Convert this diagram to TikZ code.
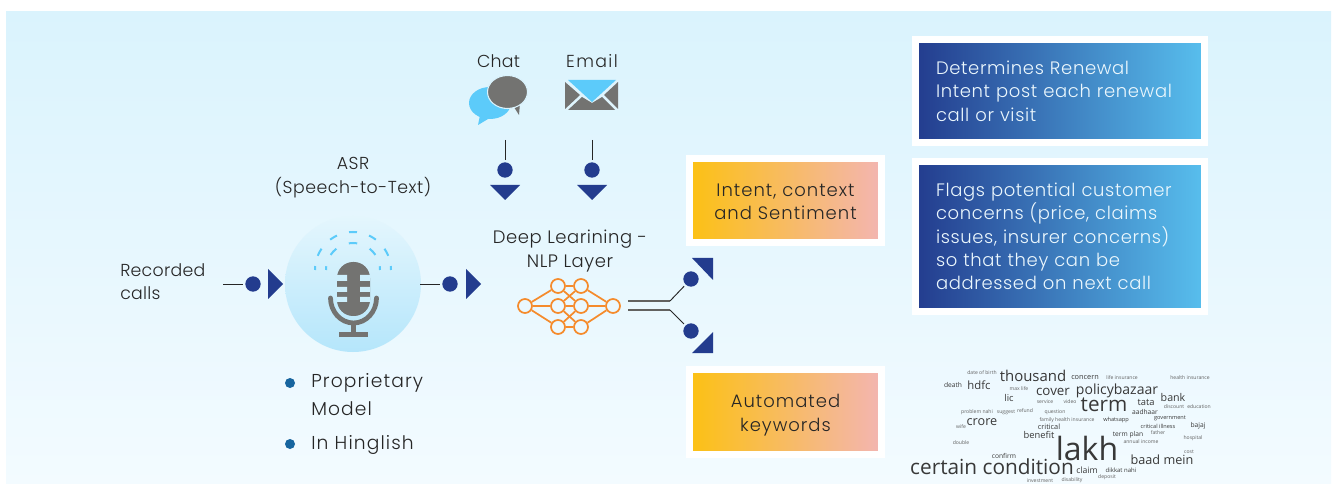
\documentclass[tikz,border=0pt]{standalone}
\usepackage{fontspec}
\setmainfont{Poppins}[LetterSpace=1.5,UprightFont=* Light]
\newfontfamily\cloudfont{Open Sans}
\usetikzlibrary{calc}
\definecolor{navy}{HTML}{233C8E}
\definecolor{sky}{HTML}{58BFEE}
\definecolor{micgrey}{HTML}{737371}
\definecolor{wave}{HTML}{5CCBFA}
\definecolor{wire}{HTML}{F58B2C}
\definecolor{ink}{HTML}{262626}
\definecolor{paneltop}{HTML}{DAF3FD}
\definecolor{panelbot}{HTML}{F3FBFF}
\definecolor{discA}{HTML}{E4F6FD}
\definecolor{discB}{HTML}{B5E6FB}
\definecolor{slot}{HTML}{CDEFFC}
\definecolor{warmA}{HTML}{FCC113}
\definecolor{warmB}{HTML}{F3B5B2}
\definecolor{bullet}{HTML}{17659F}
\newcommand{\sz}[1]{\fontsize{#1}{#1}\selectfont}
\tikzset{
  label/.style={text=ink,align=center,font=\fontsize{13}{17.5}\selectfont,inner sep=0pt},
  widelabel/.style={label,font=\fontsize{14}{17.5}\selectfont\addfontfeature{LetterSpace=6}},
  dot/.style={circle,fill=navy,minimum size=11.5pt,inner sep=0pt},
  stub/.style={draw=ink,line width=0.7pt,shorten >=1.5pt},
  head/.style={fill=navy},
  bar/.style={draw=micgrey!85!black,line width=1.5pt},
  arcdash/.style={wave,line width=1.5pt},
  pearl/.style={circle,fill=bullet,minimum size=7.5pt,inner sep=0pt},
  neuron/.style={circle,draw=wire,line width=1.3pt,minimum size=10.5pt,inner sep=0pt},
  synapse/.style={draw=wire,line width=1.3pt},
  bluebox/.style={draw=white,line width=5.25pt,left color=navy,right color=sky,minimum width=216.75pt,
    text width=186pt,align=left,inner xsep=15.4pt,inner ysep=0pt,text=white!88!sky,
    font=\fontsize{13.5}{17.5}\selectfont\addfontfeature{LetterSpace=3.5}},
  warmbox/.style={draw=white,line width=5.25pt,left color=warmA,right color=warmB,
    minimum width=144pt,minimum height=63pt,inner sep=0pt},
  warmtext/.style={align=center,inner sep=0pt,text=black!85,
    font=\fontsize{13.5}{17.5}\selectfont\addfontfeature{LetterSpace=5.5}},
  cloud/.style={inner sep=0pt,text=black!78,font=\cloudfont},
  faint/.style={inner sep=0pt,text=black!62,font=\cloudfont\sz{3.8}},
}
\begin{document}
\begin{tikzpicture}[x=0.75pt,y=-0.75pt]
\useasboundingbox (0,0) rectangle (1337,484);
\fill[top color=paneltop,bottom color=panelbot] (6,12) rectangle (1331,484);
% left labels
\node[label,align=left,anchor=west] (recorded) at (120,281.5) {Recorded\\calls};
\node[label,font=\fontsize{13}{17.5}\selectfont\addfontfeature{LetterSpace=3}] (asr) at (353,177.5) {ASR\\(Speech-to-Text)};
\node[label] (chat) at (498.5,61) {Chat};
\node[label,font=\fontsize{13}{17.5}\selectfont\addfontfeature{LetterSpace=8}] (email) at (592,61) {Email};
\node[label,font=\fontsize{13.5}{17.5}\selectfont\addfontfeature{LetterSpace=3}] (deep) at (570,251) {Deep Learining -\\NLP Layer};
% microphone
\node[circle,minimum size=102pt,inner sep=0pt,top color=discA,bottom color=discB] (mic) at (353,284) {};
\begin{scope}[shift={(353,270)},yscale=-1]
  \draw[arcdash] (180:38) arc (180:174:38);
  \draw[arcdash] (158:38) arc (158:146:38);
  \draw[arcdash] (127:38) arc (127:115:38);
  \draw[arcdash] (96:38) arc (96:84:38);
  \draw[arcdash] (65:38) arc (65:53:38);
  \draw[arcdash] (34:38) arc (34:22:38);
  \draw[arcdash] (6:38) arc (6:0:38);
  \draw[arcdash] (180:27) arc (180:172:27);
  \draw[arcdash] (146:27) arc (146:128:27);
  \draw[arcdash] (99:27) arc (99:81:27);
  \draw[arcdash] (52:27) arc (52:34:27);
  \draw[arcdash] (8:27) arc (8:0:27);
\end{scope}
\fill[micgrey,rounded corners=12pt] (337,262) rectangle (370,316);
\fill[slot] (337,275) rectangle (347,281) (360,275) rectangle (370,281);
\fill[slot] (337,287) rectangle (347,292) (360,287) rectangle (370,292);
\fill[slot] (337,297) rectangle (347,302) (360,297) rectangle (370,302);
\draw[micgrey,line width=3.6pt,line cap=round] (330.5,298) arc (180:0:23 and 25);
\fill[micgrey] (351,322) rectangle (356,333);
\fill[micgrey] (339,332) rectangle (368,337);
% input arrow
\coordinate (inA) at (223,284);
\node[dot] (dotA) at (253,284) {};
\draw[stub] (inA) -- (dotA);
\fill[head] (268,269) -- (283,284) -- (268,299) -- cycle;
% arrow after the mic
\coordinate (inB) at (420,284);
\node[dot] (dotB) at (450,284) {};
\draw[stub] (inB) -- (dotB);
\fill[head] (466,269) -- (481,284) -- (466,299) -- cycle;
% chat icon
\fill[wave] (490,103) ellipse (21 and 16);
\fill[wave] (480,115) -- (478,125) -- (493,116) -- cycle;
\fill[micgrey] (512,104) -- (519,115) -- (520,103) -- cycle;
\filldraw[fill=micgrey,draw=paneltop,line width=0.8pt] (507.5,92) ellipse (20 and 16.5);
% email icon
\fill[wave] (568,80) -- (616,80) -- (592,102) -- cycle;
\fill[micgrey] (565,82) -- (565,109) -- (580,95) -- cycle;
\fill[micgrey] (618,82) -- (618,109) -- (604,95) -- cycle;
\fill[micgrey] (568,110) -- (582,97) -- (592,103) -- (602,97) -- (615,110) -- cycle;
% chat and email arrows
\coordinate (inC) at (505,140);
\node[dot] (dotC) at (505,170) {};
\draw[stub] (inC) -- (dotC);
\fill[head] (490,185) -- (520,185) -- (505,200) -- cycle;
\coordinate (inD) at (592,140);
\node[dot] (dotD) at (592,170) {};
\draw[stub] (inD) -- (dotD);
\fill[head] (577,185) -- (607,185) -- (592,200) -- cycle;
% network
\node[neuron] (n1) at (525,306) {};
\node[neuron] (n2) at (558,286) {};
\node[neuron] (n3) at (558,306) {};
\node[neuron] (n4) at (558,327) {};
\node[neuron] (n5) at (581,286) {};
\node[neuron] (n6) at (581,306) {};
\node[neuron] (n7) at (581,327) {};
\node[neuron] (n8) at (613,306) {};
\draw[synapse] (n1)--(n2);
\draw[synapse] (n1)--(n3);
\draw[synapse] (n1)--(n4);
\draw[synapse] (n2)--(n5);
\draw[synapse] (n2)--(n6);
\draw[synapse] (n3)--(n6);
\draw[synapse] (n3)--(n5);
\draw[synapse] (n3)--(n7);
\draw[synapse] (n4)--(n6);
\draw[synapse] (n4)--(n7);
\draw[synapse] (n5)--(n8);
\draw[synapse] (n6)--(n8);
\draw[synapse] (n7)--(n8);
% split towards the two outputs
\coordinate (outA) at (628,301);
\coordinate (kneeA) at (670,301);
\coordinate (outB) at (628,310);
\coordinate (kneeB) at (670,310);
\node[dot] (dotE) at (691,279) {};
\node[dot] (dotF) at (691,331) {};
\draw[bar] (outA) -- (kneeA);
\draw[bar] (outB) -- (kneeB);
\draw[stub] (kneeA) -- (dotE);
\draw[stub] (kneeB) -- (dotF);
\fill[head] (692,258) -- (713,258) -- (713,280) -- cycle;
\fill[head] (713,332) -- (713,353) -- (692,353) -- cycle;
% bullets
\node[pearl] (bulA) at (290,383) {};
\node[pearl] (bulB) at (290,444) {};
\node[widelabel,anchor=west] (prop) at (311,383) {Proprietary};
\node[widelabel,anchor=west] (model) at (311,409) {Model};
\node[widelabel,anchor=west] (hing) at (311,444.5) {In Hinglish};
% boxes
\node[warmbox] (intent) at (785.5,200.5) {};
\node[warmtext] (intentText) at (785.5,201.5) {Intent, context\\and Sentiment};
\node[warmbox,minimum height=64pt] (keywords) at (785.5,412) {};
\node[warmtext] (keywordsText) at (785.5,415) {Automated\\keywords};
\node[bluebox,minimum height=77.25pt] (renewal) at (1060,91) {Determines Renewal\\Intent post each renewal\\call or visit};
\node[bluebox,minimum height=112.5pt] (flags) at (1060,236.5) {Flags potential customer\\concerns (price, claims\\issues, insurer concerns)\\so that they can be\\addressed on next call};
% word cloud
\node[cloud,font=\cloudfont\sz{24}] (lakh) at (1087,448) {lakh};
\node[cloud,font=\cloudfont\sz{15.6}] (certain) at (992,467) {certain condition};
\node[cloud,font=\cloudfont\sz{15.5}] (term) at (1104,405) {term};
\node[cloud,font=\cloudfont\sz{11.2}] (thousand) at (1033,376) {thousand};
\node[cloud,font=\cloudfont\sz{10.5}] (policy) at (1117,391) {policybazaar};
\node[cloud,font=\cloudfont\sz{10}] (cover) at (1053,392) {cover};
\node[cloud,font=\cloudfont\sz{8.5}] (hdfc) at (979,385) {hdfc};
\node[cloud,font=\cloudfont\sz{9.5}] (crore) at (982,422) {crore};
\node[cloud,font=\cloudfont\sz{9.5}] (baad) at (1162,460) {baad mein};
\node[cloud,font=\cloudfont\sz{8}] (bank) at (1173,397) {bank};
\node[cloud,font=\cloudfont\sz{7}] (tata) at (1146,402) {tata};
\node[cloud,font=\cloudfont\sz{7}] (benefit) at (1039,435) {benefit};
\node[cloud,font=\cloudfont\sz{6.5}] (claim) at (1087,470) {claim};
\node[cloud,font=\cloudfont\sz{5.5}] (concern) at (1085,378) {concern};
\node[cloud,font=\cloudfont\sz{7}] (lic) at (1009,398) {lic};
\node[cloud,font=\cloudfont\sz{5.5}] (critical) at (1049,427) {critical};
\node[cloud,font=\cloudfont\sz{5}] (plan) at (1128,435) {term plan};
\node[cloud,font=\cloudfont\sz{5}] (death) at (953,385) {death};
\node[cloud,font=\cloudfont\sz{4.5}] (dikkat) at (1121,470) {dikkat nahi};
\node[cloud,font=\cloudfont\sz{5}] (aadhaar) at (1145,412) {aadhaar};
\node[cloud,font=\cloudfont\sz{4.2}] (whatsapp) at (1116,420) {whatsapp};
\node[cloud,font=\cloudfont\sz{4.2}] (govt) at (1170,418) {government};
\node[cloud,font=\cloudfont\sz{4.2}] (illness) at (1158,426) {critical illness};
\node[cloud,font=\cloudfont\sz{5}] (bajaj) at (1198,426) {bajaj};
\node[cloud,font=\cloudfont\sz{5}] (confirm) at (1004,456) {confirm};
\node[faint] (hospital) at (1193,438) {hospital};
\node[faint] (family) at (1067,420) {family health insurance};
\node[faint] (life) at (1122,378) {life insurance};
\node[faint] (health) at (1190,378) {health insurance};
\node[faint] (birth) at (982,373) {date of birth};
\node[faint] (maxlife) at (1019,389) {max life};
\node[faint] (refund) at (1025,411) {refund};
\node[faint] (question) at (1055,412) {question};
\node[faint] (video) at (1070,402) {video};
\node[faint] (service) at (1045,402) {service};
\node[faint] (suggest) at (1006,412) {suggest};
\node[faint] (problem) at (977,412) {problem nahi};
\node[faint] (wife) at (961,427) {wife};
\node[faint] (double) at (961,443) {double};
\node[faint] (father) at (1158,433) {father};
\node[faint] (cost) at (1189,452) {cost};
\node[faint] (discount) at (1174,407) {discount};
\node[faint] (education) at (1199,407) {education};
\node[faint] (disability) at (1072,480) {disability};
\node[faint] (deposit) at (1107,477) {deposit};
\node[faint] (investment) at (1040,481) {investment};
\node[faint] (income) at (1141,442) {annual income};
\end{tikzpicture}
\end{document}
